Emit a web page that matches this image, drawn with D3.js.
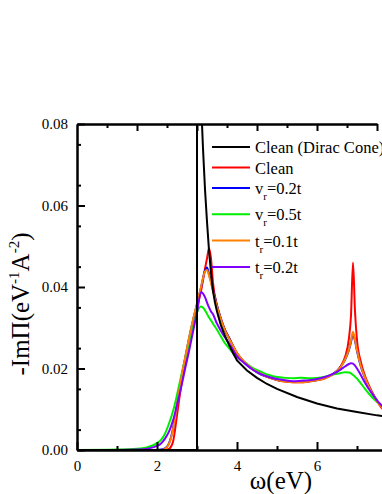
<!DOCTYPE html>
<html>
<head>
<meta charset="utf-8">
<script src="https://cdn.jsdelivr.net/npm/d3@7"></script>
<style>
  body { margin: 0; background: #fff; overflow: hidden; }
  svg { display: block; }
  svg text { font-family: "Liberation Serif", "Times New Roman", Times, "DejaVu Serif", serif !important; fill: #000; }
</style>
</head>
<body>
<svg id="chart" width="382" height="494"></svg>
<script>
// photon energy grid (eV) shared by the lattice curves
var omega = [0, 1.0, 1.5, 1.8, 2.0, 2.1, 2.2, 2.3, 2.4, 2.5, 2.6, 2.7, 2.8, 2.9, 3.0, 3.1, 3.2, 3.25, 3.3, 3.35,
  3.4, 3.5, 3.6, 3.7, 3.8, 4.0, 4.2, 4.4, 4.6, 4.8, 5.0, 5.2, 5.4, 5.6, 5.8, 6.0, 6.2, 6.4, 6.5, 6.6,
  6.7, 6.8, 6.85, 6.9, 6.95, 7.0, 7.1, 7.2, 7.3, 7.4, 7.5, 7.6, 7.7]

var clean = [0, 0, 0, 0, 0, 0, 0, 0.0003, 0.002, 0.0085, 0.0155, 0.021, 0.0258, 0.031, 0.035, 0.039, 0.0445, 0.047, 0.0495, 0.047,
  0.041, 0.0355, 0.0322, 0.0295, 0.0276, 0.0238, 0.0214, 0.0198, 0.0186, 0.0178, 0.0172, 0.0168, 0.0166, 0.0166, 0.0168, 0.0171, 0.0176, 0.0186, 0.0194, 0.0207,
  0.0228, 0.0275, 0.033, 0.046, 0.034, 0.027, 0.0215, 0.0182, 0.0158, 0.0138, 0.012, 0.0105, 0.0095]

var vr02 = [0, 0, 0, 0, 0, 0.0001, 0.0004, 0.0016, 0.0052, 0.0112, 0.0172, 0.0224, 0.0273, 0.0318, 0.0358, 0.0398, 0.0440, 0.0448, 0.0432, 0.0414,
  0.0394, 0.0354, 0.0321, 0.0294, 0.0275, 0.0237, 0.0213, 0.0197, 0.0185, 0.0178, 0.0172, 0.0169, 0.0167, 0.0167, 0.0169, 0.0172, 0.0177, 0.0187, 0.0194, 0.0205,
  0.0221, 0.0246, 0.0265, 0.0285, 0.0268, 0.0243, 0.0204, 0.0177, 0.0155, 0.0137, 0.0121, 0.0108, 0.0098]

var vr05 = [0, 0.0001, 0.0003, 0.0008, 0.0017, 0.0025, 0.004, 0.0065, 0.0095, 0.0135, 0.018, 0.0222, 0.026, 0.0302, 0.0337, 0.0352, 0.0343, 0.0334, 0.0325, 0.0318,
  0.031, 0.0295, 0.0278, 0.0262, 0.025, 0.0228, 0.0215, 0.0201, 0.0192, 0.0184, 0.0179, 0.0177, 0.0176, 0.0177, 0.0176, 0.0177, 0.018, 0.0185, 0.0187, 0.0189,
  0.0191, 0.019, 0.0188, 0.0184, 0.018, 0.0175, 0.0163, 0.015, 0.0138, 0.0127, 0.0118, 0.011, 0.0103]

var tr01 = [0, 0, 0, 0, 0, 0, 0.0003, 0.0015, 0.005, 0.011, 0.0172, 0.0225, 0.0275, 0.032, 0.036, 0.04, 0.0438, 0.0442, 0.0428, 0.041,
  0.039, 0.0352, 0.032, 0.0293, 0.0274, 0.0238, 0.0214, 0.0198, 0.0186, 0.0178, 0.0172, 0.0168, 0.0166, 0.0166, 0.0168, 0.0171, 0.0176, 0.0186, 0.0194, 0.0205,
  0.0222, 0.0248, 0.0268, 0.029, 0.027, 0.0245, 0.0205, 0.0178, 0.0155, 0.0137, 0.012, 0.0107, 0.0097]

var tr02 = [0, 0, 0.0001, 0.0004, 0.001, 0.0016, 0.0028, 0.0045, 0.0072, 0.011, 0.0152, 0.0198, 0.0242, 0.029, 0.0338, 0.0387, 0.0375, 0.0362, 0.035, 0.034,
  0.0333, 0.031, 0.0292, 0.0276, 0.0262, 0.023, 0.0212, 0.0197, 0.0186, 0.0179, 0.0174, 0.0171, 0.0169, 0.017, 0.0171, 0.0174, 0.0179, 0.0187, 0.0192, 0.0198,
  0.0205, 0.0211, 0.0213, 0.0212, 0.0207, 0.02, 0.0183, 0.0165, 0.0149, 0.0135, 0.0122, 0.0111, 0.0102]

// Dirac cone result has its own grid (vertical step at 3 eV)
var diracOmega = [0, 3.0, 3.0, 3.05, 3.1, 3.15, 3.2, 3.25, 3.3, 3.35, 3.4, 3.45, 3.5, 3.6, 3.7, 3.8, 3.9, 4.0, 4.25, 4.5,
  4.75, 5.0, 5.5, 6.0, 6.5, 7.0, 7.5, 8.0]
var dirac = [0, 0, 0.12, 0.1, 0.086, 0.074, 0.064, 0.056, 0.049, 0.0435, 0.039, 0.0362, 0.034, 0.0305, 0.028, 0.0258, 0.0238, 0.022, 0.0195, 0.0177,
  0.0162, 0.015, 0.013, 0.0114, 0.0102, 0.0093, 0.0085, 0.0079]

var labels = ['Clean (Dirac Cone)', 'Clean', 'v|r|=0.2t', 'v|r|=0.5t', 't|r|=0.1t', 't|r|=0.2t']
var colors = ['#000000', '#ff0000', '#0000ff', '#00ee00', '#ff8000', '#8000ff']

var yTicks = [0, 0.02, 0.04, 0.06, 0.08]
var xTicks = [0, 2, 4, 6]

;(function (d3) {
  var svg = d3.select('#chart')
  var left = 77, top = 124, bottom = 450
  var serif = '"Liberation Serif", "Times New Roman", Times, "DejaVu Serif", serif'

  var x = d3.scaleLinear().domain([0, 8]).range([left, left + 320])
  var y = d3.scaleLinear().domain([0, 0.08]).range([bottom, top])
  // top axis is drawn with a separate, finer tick spacing
  var x2 = d3.scaleLinear().domain([0, 10]).range([left, left + 300])

  svg.append('defs').append('clipPath').attr('id', 'clip')
    .append('rect')
    .attr('x', left).attr('y', top)
    .attr('width', 330).attr('height', bottom - top)

  var plot = svg.append('g').attr('clip-path', 'url(#clip)')

  var line = d3.line()
    .x(function (d) { return x(d[0]) })
    .y(function (d) { return y(d[1]) })
    .curve(d3.curveMonotoneX)

  var series = [clean, vr02, vr05, tr01, tr02]
  series.forEach(function (s, i) {
    plot.append('path')
      .datum(omega.map(function (w, j) { return [w, s[j]] }))
      .attr('d', line)
      .attr('fill', 'none')
      .attr('stroke', colors[i + 1])
      .attr('stroke-width', 2)
      .attr('stroke-linejoin', 'round')
  })

  plot.append('path')
    .datum(diracOmega.map(function (w, j) { return [w, dirac[j]] }))
    .attr('d', line.curve(d3.curveLinear))
    .attr('fill', 'none')
    .attr('stroke', colors[0])
    .attr('stroke-width', 2)

  // axes
  var gy = svg.append('g').attr('transform', 'translate(' + left + ',0)')
    .call(d3.axisLeft(y).tickValues(yTicks).tickFormat(d3.format('.2f'))
      .tickSizeInner(-8).tickSizeOuter(0).tickPadding(9))
  gy.append('g').call(d3.axisLeft(y).tickValues(d3.range(0.005, 0.08, 0.01))
    .tickSizeInner(-4).tickSizeOuter(0).tickFormat(''))

  var gx = svg.append('g').attr('transform', 'translate(0,' + bottom + ')')
    .call(d3.axisBottom(x).tickValues(xTicks).tickFormat(d3.format('d'))
      .tickSizeInner(-8).tickSizeOuter(0).tickPadding(10))
  gx.append('g').call(d3.axisBottom(x).tickValues([1, 3, 5, 7])
    .tickSizeInner(-4).tickSizeOuter(0).tickFormat(''))

  var gt = svg.append('g').attr('transform', 'translate(0,' + top + ')')
    .call(d3.axisTop(x2).tickValues([2, 4, 6, 8, 10])
      .tickSizeInner(-7).tickSizeOuter(0).tickFormat(''))
  gt.append('g').call(d3.axisTop(x2).tickValues([1, 3, 5, 7, 9])
    .tickSizeInner(-4).tickSizeOuter(0).tickFormat(''))

  svg.selectAll('g').attr('font-family', serif)
  svg.selectAll('.domain').attr('stroke-width', 2)
  svg.selectAll('.tick line').attr('stroke-width', 2)
  svg.selectAll('.tick text').attr('font-size', 15)

  // axis titles
  var yl = svg.append('text')
    .attr('transform', 'translate(29,304) rotate(-90)')
    .attr('text-anchor', 'middle')
    .attr('font-family', serif)
    .attr('font-size', 25)
  yl.append('tspan').text('-ImΠ(eV')
  yl.append('tspan').text('-1').attr('dy', -10).attr('font-size', 15)
  yl.append('tspan').text('A').attr('dy', 10)
  yl.append('tspan').text('-2').attr('dy', -10).attr('font-size', 15)
  yl.append('tspan').text(')').attr('dy', 10)

  svg.append('text')
    .attr('x', 281).attr('y', 489)
    .attr('text-anchor', 'middle')
    .attr('font-family', serif)
    .attr('font-size', 25)
    .text('ω(eV)')

  // legend
  var ly = 147
  labels.forEach(function (lab, i) {
    var parts = lab.split('|')
    if (i > 0) ly += (labels[i - 1].indexOf('|') >= 0) ? 26.3 : 20.5
    svg.append('line')
      .attr('x1', 212).attr('x2', 250)
      .attr('y1', ly).attr('y2', ly)
      .attr('stroke', colors[i]).attr('stroke-width', 2)
    var t = svg.append('text').attr('x', 255).attr('y', ly + 6)
      .attr('font-family', serif)
      .attr('font-size', 16.5)
    t.append('tspan').text(parts[0])
    if (parts.length > 1) {
      t.append('tspan').text(parts[1]).attr('dy', 6).attr('font-size', 11)
      t.append('tspan').text(parts[2]).attr('dy', -6)
    }
  })
})(window.d3)
</script>
</body>
</html>
